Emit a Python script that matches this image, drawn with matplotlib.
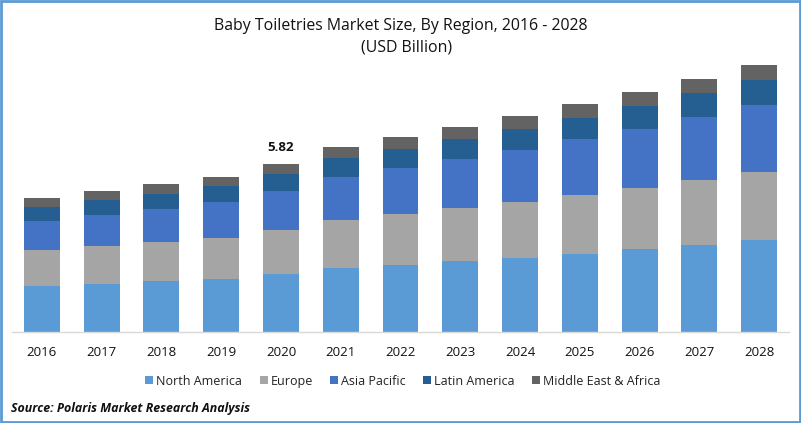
import matplotlib
matplotlib.use("Agg")
import matplotlib.pyplot as plt
from matplotlib.patches import Rectangle

plt.rcParams["font.family"] = ["Open Sans", "DejaVu Sans"]

years = ["2016", "2017", "2018", "2019", "2020", "2021", "2022",
         "2023", "2024", "2025", "2026", "2027", "2028"]
north_america = [1.59, 1.66, 1.77, 1.84, 2.01, 2.22, 2.32, 2.46, 2.56, 2.70, 2.87, 3.01, 3.19]
europe = [1.25, 1.32, 1.35, 1.42, 1.52, 1.66, 1.77, 1.84, 1.94, 2.04, 2.11, 2.25, 2.36]
asia_pacific = [1.00, 1.07, 1.14, 1.25, 1.35, 1.49, 1.59, 1.70, 1.80, 1.94, 2.04, 2.18, 2.32]
latin_america = [0.48, 0.52, 0.52, 0.55, 0.59, 0.67, 0.66, 0.69, 0.73, 0.73, 0.80, 0.83, 0.87]
middle_east = [0.31, 0.31, 0.35, 0.31, 0.35, 0.37, 0.42, 0.42, 0.45, 0.48, 0.48, 0.48, 0.52]

series = [
    ("North America", north_america, "#5B9BD5"),
    ("Europe", europe, "#A5A5A5"),
    ("Asia Pacific", asia_pacific, "#4472C4"),
    ("Latin America", latin_america, "#255E91"),
    ("Middle East & Africa", middle_east, "#636363"),
]

W, H = 801, 423
fig = plt.figure(figsize=(W / 100, H / 100), dpi=100)

# axes placed in pixels: baseline at y=332, 2016 bar centred at x=42
ax = fig.add_axes([12 / W, 1 - 332 / H, 777 / W, 272 / H])

x = list(range(len(years)))
bottom = [0.0] * len(years)
for name, vals, color in series:
    ax.bar(x, vals, width=0.6, bottom=bottom, color=color, label=name)
    bottom = [b + v for b, v in zip(bottom, vals)]

ax.set_xlim(-0.5, 12.5)
ax.set_ylim(0, 9.42)
ax.set_yticks([])
ax.set_xticks(x)
ax.set_xticklabels(years, fontsize=9.5, color="#111111")
ax.tick_params(axis="x", length=0, pad=10)
for s in ["top", "right", "left"]:
    ax.spines[s].set_visible(False)
ax.spines["bottom"].set_color("#D9D9D9")
ax.spines["bottom"].set_linewidth(1.0)

# only 2020 gets a total label
ax.text(x[4], bottom[4] + 0.34, "5.82", ha="center", va="bottom",
        fontsize=9.5, fontweight="bold", color="#111111")

fig.text(400.5 / W, 1 - 26 / H, "Baby Toiletries Market Size, By Region, 2016 - 2028",
         ha="center", va="center", fontsize=11.45, color="#111111")
fig.text(407 / W, 1 - 47 / H, "(USD Billion)",
         ha="center", va="center", fontsize=11.45, color="#111111")

fig.legend(loc="center", bbox_to_anchor=(403 / W, 1 - 381 / H), ncol=5, frameon=False,
           fontsize=9, handlelength=0.64, handleheight=0.64, handletextpad=0.25,
           columnspacing=1.38, labelcolor="#222222")

fig.text(11 / W, 1 - 408 / H, "Source: Polaris Market Research Analysis",
         ha="left", va="center", fontsize=8.92, fontweight="bold", fontstyle="italic",
         color="#111111")

# blue frame round the image
fig.add_artist(Rectangle((1 / W, 1 / H), 1 - 2.5 / W, 1 - 2.5 / H, transform=fig.transFigure,
                         fill=False, edgecolor="#5B9BD5", linewidth=2))

fig.savefig("out.png", dpi=100)
